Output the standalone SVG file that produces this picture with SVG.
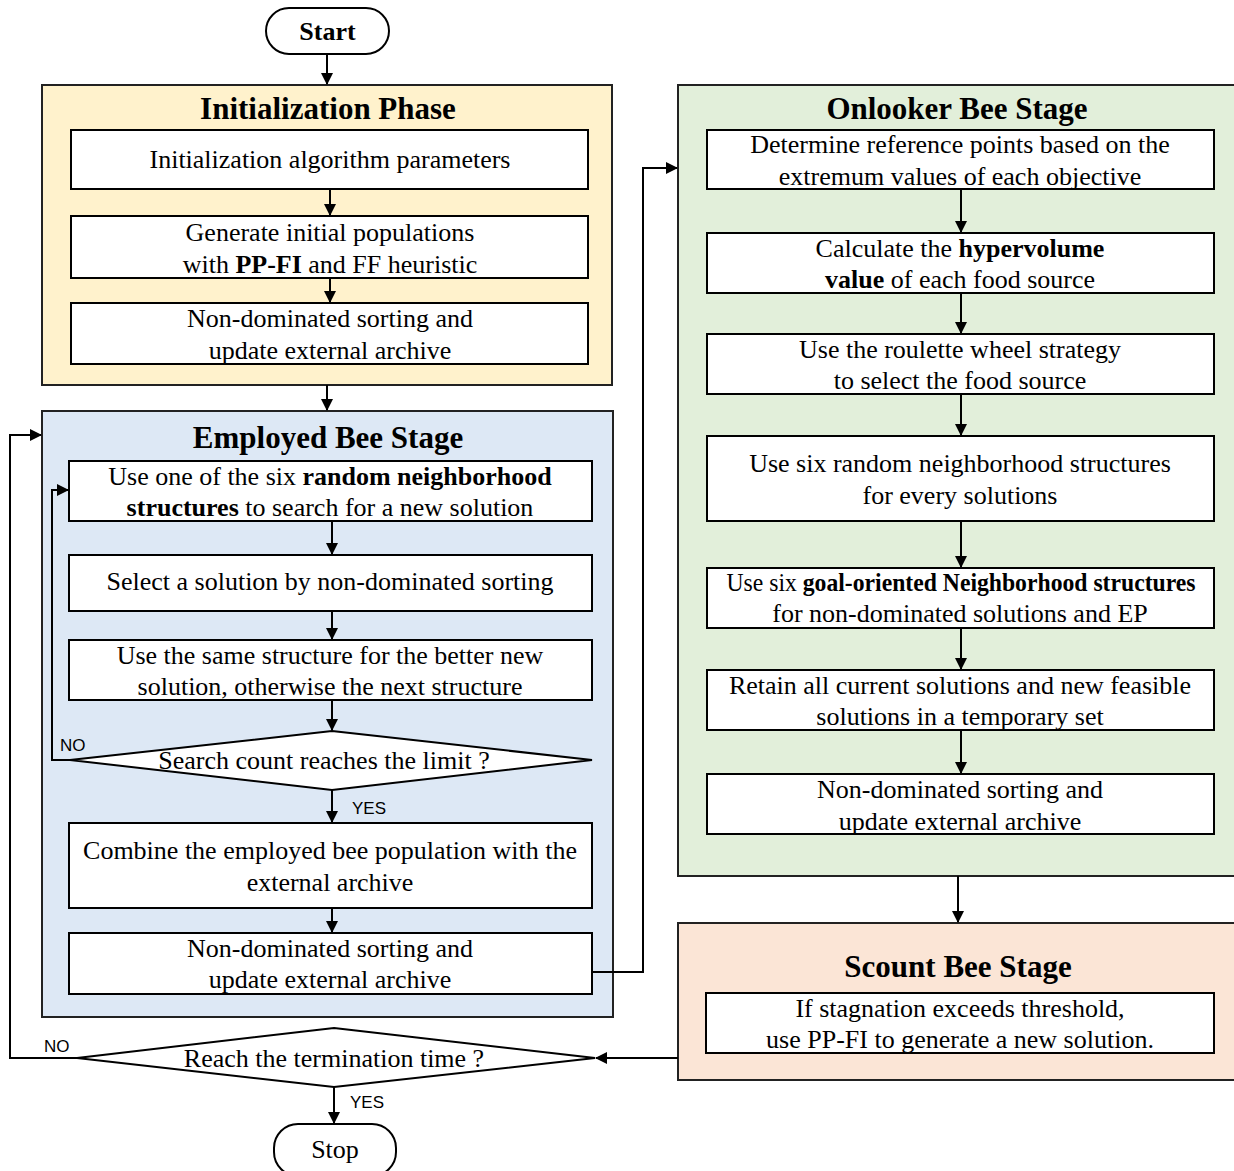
<svg xmlns="http://www.w3.org/2000/svg" width="1234" height="1171" viewBox="0 0 1234 1171">
<defs>
<marker id="ah" markerWidth="12" markerHeight="12" refX="11" refY="6" orient="auto" markerUnits="userSpaceOnUse">
<path d="M0,0 L12,6 L0,12 Z" fill="#000"/>
</marker>
<style>
.t{font-family:"Liberation Serif","Times New Roman",serif;font-size:26px;fill:#000;text-anchor:middle}
.h{font-family:"Liberation Serif","Times New Roman",serif;font-size:31px;font-weight:bold;fill:#000;text-anchor:middle}
.l{font-family:"Liberation Sans",Arial,sans-serif;font-size:17px;fill:#000}
.b{font-weight:bold}
.box{fill:#fff;stroke:#000;stroke-width:2}
.stage{stroke:#222;stroke-width:2}
.c{fill:none;stroke:#000;stroke-width:2}
</style>
</defs>
<rect width="1234" height="1171" fill="#fff"/>

<g id="start">
<rect x="266" y="8" width="123" height="46" rx="23" class="box"/>
<text x="327.5" y="40" class="t b">Start</text>
</g>

<g id="init-phase">
<rect x="42" y="85" width="570" height="300" fill="#FFF2CC" class="stage"/>
<text x="328" y="119" class="h">Initialization Phase</text>
</g>
<g id="init1">
<rect x="71" y="130" width="517" height="59" class="box"/>
<text x="330" y="168" class="t">Initialization algorithm parameters</text>
</g>
<g id="init2">
<rect x="71" y="216" width="517" height="62" class="box"/>
<text x="330" y="241" class="t">Generate initial populations</text>
<text x="330" y="273" class="t">with <tspan class="b">PP-FI</tspan> and FF heuristic</text>
</g>
<g id="init3">
<rect x="71" y="303" width="517" height="61" class="box"/>
<text x="330" y="327" class="t">Non-dominated sorting and</text>
<text x="330" y="359" class="t">update external archive</text>
</g>

<g id="employed-stage">
<rect x="42" y="411" width="571" height="606" fill="#DDE8F5" class="stage"/>
<text x="328" y="448" class="h">Employed Bee Stage</text>
</g>
<g id="emp1">
<rect x="69" y="461" width="523" height="60" class="box"/>
<text x="330" y="485" class="t">Use one of the six <tspan class="b">random neighborhood</tspan></text>
<text x="330" y="516" class="t"><tspan class="b">structures</tspan> to search for a new solution</text>
</g>
<g id="emp2">
<rect x="69" y="555" width="523" height="56" class="box"/>
<text x="330" y="590" class="t">Select a solution by non-dominated sorting</text>
</g>
<g id="emp3">
<rect x="69" y="640" width="523" height="60" class="box"/>
<text x="330" y="664" class="t">Use the same structure for the better new</text>
<text x="330" y="695" class="t">solution, otherwise the next structure</text>
</g>
<g id="emp-decision">
<polygon points="332,731 592,760 332,790 70,760" class="box"/>
<text x="324" y="769" class="t">Search count reaches the limit ?</text>
</g>
<g id="emp4">
<rect x="69" y="823" width="523" height="85" class="box"/>
<text x="330" y="859" class="t">Combine the employed bee population with the</text>
<text x="330" y="891" class="t">external archive</text>
</g>
<g id="emp5">
<rect x="69" y="933" width="523" height="61" class="box"/>
<text x="330" y="957" class="t">Non-dominated sorting and</text>
<text x="330" y="988" class="t">update external archive</text>
</g>

<g id="onlooker-stage">
<rect x="678" y="85" width="560" height="791" fill="#E2EFDA" class="stage"/>
<text x="957" y="119" class="h">Onlooker Bee Stage</text>
</g>
<g id="onl1">
<rect x="707" y="130" width="507" height="59" class="box"/>
<text x="960" y="153" class="t">Determine reference points based on the</text>
<text x="960" y="185" class="t">extremum values of each objective</text>
</g>
<g id="onl2">
<rect x="707" y="233" width="507" height="60" class="box"/>
<text x="960" y="257" class="t">Calculate the <tspan class="b">hypervolume</tspan></text>
<text x="960" y="288" class="t"><tspan class="b">value</tspan> of each food source</text>
</g>
<g id="onl3">
<rect x="707" y="334" width="507" height="60" class="box"/>
<text x="960" y="358" class="t">Use the roulette wheel strategy</text>
<text x="960" y="389" class="t">to select the food source</text>
</g>
<g id="onl4">
<rect x="707" y="436" width="507" height="85" class="box"/>
<text x="960" y="472" class="t">Use six random neighborhood structures</text>
<text x="960" y="504" class="t">for every solutions</text>
</g>
<g id="onl5">
<rect x="707" y="568" width="507" height="60" class="box"/>
<text x="961" y="591" class="t" textLength="469" lengthAdjust="spacingAndGlyphs">Use six <tspan class="b">goal-oriented Neighborhood structures</tspan></text>
<text x="960" y="622" class="t">for non-dominated solutions and EP</text>
</g>
<g id="onl6">
<rect x="707" y="670" width="507" height="60" class="box"/>
<text x="960" y="694" class="t">Retain all current solutions and new feasible</text>
<text x="960" y="725" class="t">solutions in a temporary set</text>
</g>
<g id="onl7">
<rect x="707" y="774" width="507" height="60" class="box"/>
<text x="960" y="798" class="t">Non-dominated sorting and</text>
<text x="960" y="830" class="t">update external archive</text>
</g>

<g id="scout-stage">
<rect x="678" y="923" width="560" height="157" fill="#FBE5D6" class="stage"/>
<text x="958" y="977" class="h">Scount Bee Stage</text>
</g>
<g id="scout1">
<rect x="706" y="993" width="508" height="60" class="box"/>
<text x="960" y="1017" class="t">If stagnation exceeds threshold,</text>
<text x="960" y="1048" class="t">use PP-FI to generate a new solution.</text>
</g>

<g id="term-decision">
<polygon points="334,1028 595,1058 334,1087 77,1058" class="box"/>
<text x="334" y="1067" class="t">Reach the termination time ?</text>
</g>

<g id="stop">
<rect x="274" y="1124" width="122" height="52" rx="24" class="box"/>
<text x="335" y="1158" class="t">Stop</text>
</g>

<g id="connectors">
<line x1="327" y1="54" x2="327" y2="84" class="c" marker-end="url(#ah)"/>
<line x1="330" y1="189" x2="330" y2="215" class="c" marker-end="url(#ah)"/>
<line x1="330" y1="278" x2="330" y2="302" class="c" marker-end="url(#ah)"/>
<line x1="327" y1="385" x2="327" y2="410" class="c" marker-end="url(#ah)"/>
<line x1="332" y1="521" x2="332" y2="554" class="c" marker-end="url(#ah)"/>
<line x1="332" y1="611" x2="332" y2="639" class="c" marker-end="url(#ah)"/>
<line x1="332" y1="700" x2="332" y2="730" class="c" marker-end="url(#ah)"/>
<polyline points="70,760 52,760 52,490 68,490" class="c" marker-end="url(#ah)"/>
<line x1="332" y1="790" x2="332" y2="822" class="c" marker-end="url(#ah)"/>
<line x1="332" y1="908" x2="332" y2="932" class="c" marker-end="url(#ah)"/>
<polyline points="592,972 643,972 643,168 677,168" class="c" marker-end="url(#ah)"/>
<line x1="961" y1="189" x2="961" y2="232" class="c" marker-end="url(#ah)"/>
<line x1="961" y1="293" x2="961" y2="333" class="c" marker-end="url(#ah)"/>
<line x1="961" y1="394" x2="961" y2="435" class="c" marker-end="url(#ah)"/>
<line x1="961" y1="521" x2="961" y2="567" class="c" marker-end="url(#ah)"/>
<line x1="961" y1="628" x2="961" y2="669" class="c" marker-end="url(#ah)"/>
<line x1="961" y1="730" x2="961" y2="773" class="c" marker-end="url(#ah)"/>
<line x1="958" y1="876" x2="958" y2="922" class="c" marker-end="url(#ah)"/>
<line x1="678" y1="1058" x2="596" y2="1058" class="c" marker-end="url(#ah)"/>
<polyline points="77,1058 10,1058 10,435 41,435" class="c" marker-end="url(#ah)"/>
<line x1="334" y1="1087" x2="334" y2="1123" class="c" marker-end="url(#ah)"/>
<text x="60" y="751" class="l">NO</text>
<text x="352" y="814" class="l">YES</text>
<text x="44" y="1052" class="l">NO</text>
<text x="350" y="1108" class="l">YES</text>
</g>
</svg>
